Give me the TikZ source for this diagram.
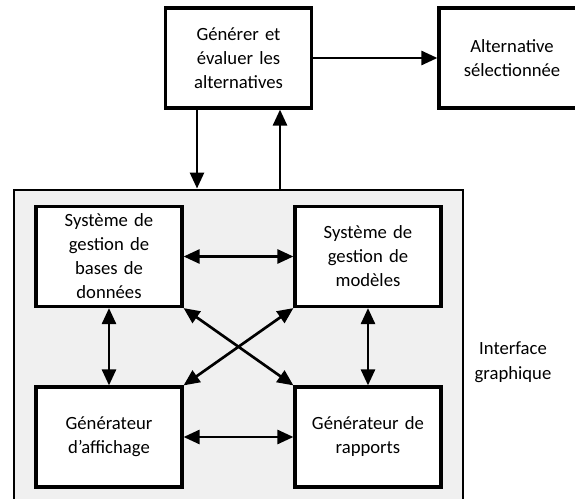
\documentclass[tikz,border=0pt]{standalone}
\usepackage{fontspec}
\setmainfont{Carlito}
\usetikzlibrary{arrows.meta, positioning, calc}
\definecolor{mydark}{RGB}{0,0,0}
\definecolor{mypanel}{RGB}{240,240,240}
\tikzset{
  block/.style={rectangle, draw=mydark, fill=white,
    minimum width=109.5pt, minimum height=75pt, text width=100pt,
    align=center, font=\fontsize{14}{18}\selectfont, line width=2.4pt},
  panel/.style={rectangle, draw=mydark, fill=mypanel,
    minimum width=336.75pt, minimum height=247.5pt, line width=2.2pt},
  sidetext/.style={align=center, font=\fontsize{14}{19}\selectfont},
  arrow/.style={-{Triangle[length=12pt, width=10.5pt]}, line width=2pt, color=mydark},
  dblarrow/.style={{Triangle[length=12pt, width=10.5pt]}-{Triangle[length=12pt, width=10.5pt]},
    line width=2pt, color=mydark}
}

\begin{document}
\begin{tikzpicture}[x=0.75pt, y=-0.75pt]
  \useasboundingbox (0,0) rectangle (575,499);
  \clip (0,0) rectangle (575,499);

  % Graphical interface panel
  \node[panel] (gui) at (238.5,355) {};
  \node[sidetext] (ig) at (513,362) {Interface\\graphique};

  % Top row
  \node[block] (gen) at (238.5,58) {Générer et\\évaluer les\\alternatives};
  \node[block] (alt) at (512,58) {Alternative\\sélectionnée};

  % Four subsystems
  \node[block] (sgbd) at (109,256.5) {Système de\\gestion de\\bases de\\données};
  \node[block] (sgm) at (368,256.5) {Système de\\gestion de\\modèles};
  \node[block] (ga) at (109,437) {Générateur\\d’affichage};
  \node[block] (gr) at (368,437) {Générateur de\\rapports};

  % Links to the top
  \draw[arrow] (gen) -- (alt);
  \coordinate (dn) at ($(gen.south)+(-41.5,0)$);
  \coordinate (up) at ($(gen.south)+(41.5,0)$);
  \draw[arrow] (dn) -- (dn |- gui.north);
  \draw[arrow] (up |- gui.north) -- (up);

  % Links inside the panel
  \draw[dblarrow] (sgbd) -- (sgm);
  \draw[dblarrow] (ga) -- (gr);
  \draw[dblarrow] (sgbd) -- (ga);
  \draw[dblarrow] (sgm) -- (gr);
  \draw[dblarrow] (sgbd.south east) -- (gr.north west);
  \draw[dblarrow] (sgm.south west) -- (ga.north east);
\end{tikzpicture}
\end{document}
